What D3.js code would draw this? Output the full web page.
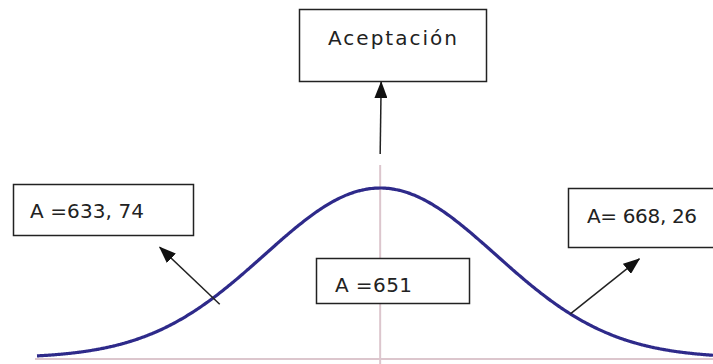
<!DOCTYPE html>
<html>
<head>
<meta charset="utf-8">
<script src="https://cdn.jsdelivr.net/npm/d3@7/dist/d3.min.js"></script>
<style>
  html, body { margin: 0; padding: 0; background: #fff; }
  svg { display: block; }
  text { font-family: "DejaVu Sans", Verdana, sans-serif; fill: #222; }
</style>
</head>
<body>
<svg id="chart" width="713" height="364"></svg>
<script>
// Distribution parameters
const mean = 651;
const sd = 11.2;
const xDomain = [617.8, 683.2];

// Annotated values (curve anchor values for the side arrows)
const boxLabels = ["Aceptación", "A =633, 74", "A =651", "A= 668, 26"];
const arrowAnchors = [634.8, 669.4];

// Layout
const W = 713, H = 364;
const baseY = 358, peakY = 188;
const curveColor = "#2e2a8a";
const axisColor = "#dcc6cd";

const svg = d3.select("#chart");

const x = d3.scaleLinear().domain(xDomain).range([37, 713]);
const pdf = v => Math.exp(-0.5 * ((v - mean) / sd) ** 2) / (sd * Math.sqrt(2 * Math.PI));
const y = d3.scaleLinear().domain([0, pdf(mean)]).range([baseY, peakY]);

// arrowhead
svg.append("defs").append("marker")
  .attr("id", "head")
  .attr("markerUnits", "userSpaceOnUse")
  .attr("viewBox", "0 0 17 13")
  .attr("refX", 16).attr("refY", 6.5)
  .attr("markerWidth", 17).attr("markerHeight", 13)
  .attr("orient", "auto")
  .append("path")
  .attr("d", "M0,0 L17,6.5 L0,13 Z")
  .attr("fill", "#111");

// axes: horizontal baseline and vertical line at the mean
svg.append("line")
  .attr("x1", 35).attr("x2", W)
  .attr("y1", baseY + 1).attr("y2", baseY + 1)
  .attr("stroke", axisColor).attr("stroke-width", 2);
svg.append("line")
  .attr("x1", x(mean)).attr("x2", x(mean))
  .attr("y1", 165).attr("y2", H)
  .attr("stroke", axisColor).attr("stroke-width", 2);

// bell curve
const xs = d3.range(0, 401).map(i => xDomain[0] + (xDomain[1] - xDomain[0]) * i / 400);
svg.append("path")
  .datum(xs)
  .attr("fill", "none")
  .attr("stroke", curveColor)
  .attr("stroke-width", 3.2)
  .attr("d", d3.line().x(d => x(d)).y(d => y(pdf(d))).curve(d3.curveBasis));

// arrows
const arrowStyle = sel => sel.attr("stroke", "#222").attr("stroke-width", 1.5).attr("marker-end", "url(#head)");

svg.append("line")
  .attr("x1", x(mean)).attr("y1", 154)
  .attr("x2", x(mean) + 1).attr("y2", 82)
  .call(arrowStyle);

const arrowTips = [[-53, -51], [69, -55]];
const arrowTails = [[7, 6], [0, 0]];
arrowAnchors.forEach((v, i) => {
  const cx = x(v), cy = y(pdf(v));
  svg.append("line")
    .attr("x1", cx + arrowTails[i][0]).attr("y1", cy + arrowTails[i][1])
    .attr("x2", cx + arrowTips[i][0]).attr("y2", cy + arrowTips[i][1])
    .call(arrowStyle);
});

// label boxes
const boxes = [
  { x: 299, y: 9,   w: 187, h: 72, tx: 328, ty: 45,  len: 129 },
  { x: 13,  y: 184, w: 180, h: 51, tx: 30,  ty: 218, len: 114 },
  { x: 316, y: 258, w: 153, h: 45, tx: 335, ty: 292, len: 77 },
  { x: 568, y: 188, w: 170, h: 59, tx: 587, ty: 223, len: 110 }
];
boxes.forEach((b, i) => {
  svg.append("rect")
    .attr("x", b.x + 0.5).attr("y", b.y + 0.5)
    .attr("width", b.w).attr("height", b.h)
    .attr("fill", "#fff").attr("stroke", "#222").attr("stroke-width", 1.5);
  svg.append("text")
    .attr("x", b.tx).attr("y", b.ty)
    .attr("font-size", 20)
    .attr("textLength", b.len).attr("lengthAdjust", "spacing")
    .text(boxLabels[i]);
});
</script>
</body>
</html>
